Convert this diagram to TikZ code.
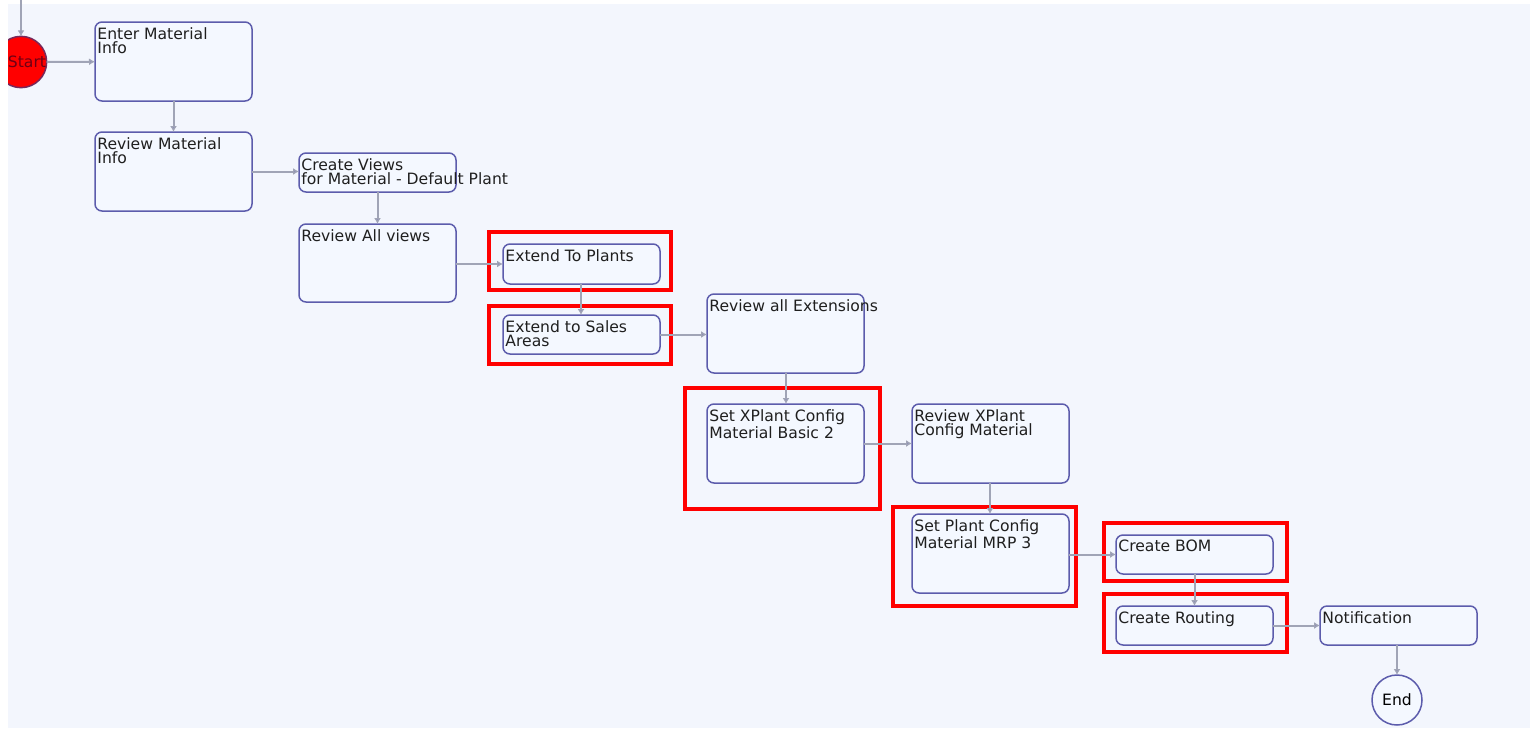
\documentclass[tikz,border=0pt]{standalone}
\usepackage{fontspec}
\setmainfont{DejaVu Sans}
\usetikzlibrary{arrows.meta}
\definecolor{bgc}{RGB}{243,246,253}
\definecolor{boxfill}{RGB}{244,248,255}
\definecolor{boxline}{RGB}{92,92,172}
\definecolor{connc}{RGB}{160,164,182}
\definecolor{tipc}{RGB}{140,142,185}
\definecolor{startline}{RGB}{120,40,90}
\definecolor{starttext}{RGB}{110,0,20}
\definecolor{hl}{RGB}{255,0,0}
\tikzset{
  box/.style={draw=boxline, fill=boxfill, rounded corners=3.5pt, line width=0.75pt, inner sep=0pt, outer sep=0pt},
  txt/.style={anchor=north west, inner sep=0pt, align=left, font=\fontsize{7.8}{7.3}\selectfont, text=black!88},
  conn/.style={draw=connc, line width=1pt, -{Latex[length=3pt,width=3.5pt,fill=tipc]}},
  hlbox/.style={draw=hl, line width=1.6pt},
  circ/.style={circle, minimum size=25pt, inner sep=0pt, outer sep=0pt, line width=0.75pt, font=\fontsize{7.8}{7.3}\selectfont}
}
\newcommand\procbox[6]{%
  \node[box, minimum width={(#4-#2)*0.5pt}, minimum height={(#5-#3)*0.5pt}] (#1) at ({(#2+#4)/2},{(#3+#5)/2}) {};
  \node[txt] (#1-t) at (#2+2,#3+5) {#6};
}
\begin{document}
\begin{tikzpicture}[x=0.5pt,y=-0.5pt]
\useasboundingbox (0,0) rectangle (1530,728);
\fill[white] (0,0) rectangle (1530,728);
\fill[bgc] (8,4) rectangle (1530,728);
% highlight frames
\draw[hlbox] (489,232) rectangle (671,290);
\draw[hlbox] (489,306) rectangle (671,364);
\draw[hlbox] (685,388) rectangle (880,509);
\draw[hlbox] (893,507) rectangle (1076,606);
\draw[hlbox] (1104,523) rectangle (1287,581);
\draw[hlbox] (1104,594) rectangle (1287,652);
% start / end
\node[circ, draw=startline, fill=red, text=starttext] (start) at (21,62) {\hspace*{6pt}Start};
\node[circ, draw=boxline, fill=boxfill, text=black] (end) at (1397,700) {End};
% process boxes
\procbox{enter}{95}{22}{252}{101}{Enter Material\\Info}
\procbox{revmat}{95}{132}{252}{211}{Review Material\\Info}
\procbox{views}{299}{153}{456}{192}{Create Views\\for Material - Default Plant}
\procbox{revall}{299}{224}{456}{302}{Review All views}
\procbox{plants}{503}{244}{660}{284}{Extend To Plants}
\procbox{sales}{503}{315}{660}{354}{Extend to Sales\\Areas}
\procbox{revext}{707}{294}{864}{373}{Review all Extensions}
\procbox{xplant}{707}{404}{864}{483}{Set XPlant Config\\Material Basic 2}
\procbox{revx}{912}{404}{1069}{483}{Review XPlant\\Config Material}
\procbox{mrp}{912}{514}{1069}{593}{Set Plant Config\\Material MRP 3}
\procbox{bom}{1116}{535}{1273}{574}{Create BOM}
\procbox{rout}{1116}{606}{1273}{645}{Create Routing}
\procbox{notif}{1320}{606}{1477}{645}{Notification}
% connectors
\coordinate (in0) at (21,0);
\draw[conn] (in0) -- (start);
\draw[conn] (start) -- (enter);
\draw[conn] (enter) -- (revmat);
\draw[conn] (revmat.east) -- (revmat.east -| views.west);
\draw[conn] (views) -- (revall);
\draw[conn] (revall.east |- plants.west) -- (plants.west);
\draw[conn] (plants.south -| 581,0) -- (sales.north -| 581,0);
\draw[conn] (sales.east) -- (sales.east -| revext.west);
\draw[conn] (revext.south -| 786,0) -- (xplant.north -| 786,0);
\draw[conn] (xplant) -- (revx);
\draw[conn] (revx.south -| 990,0) -- (mrp.north -| 990,0);
\draw[conn] (mrp.east |- bom.west) -- (bom.west);
\draw[conn] (bom) -- (rout);
\draw[conn] (rout) -- (notif);
\draw[conn] (notif.south -| end.north) -- (end.north);
% white strip on the left edge
\fill[white] (0,0) rectangle (8,728);
\end{tikzpicture}
\end{document}
